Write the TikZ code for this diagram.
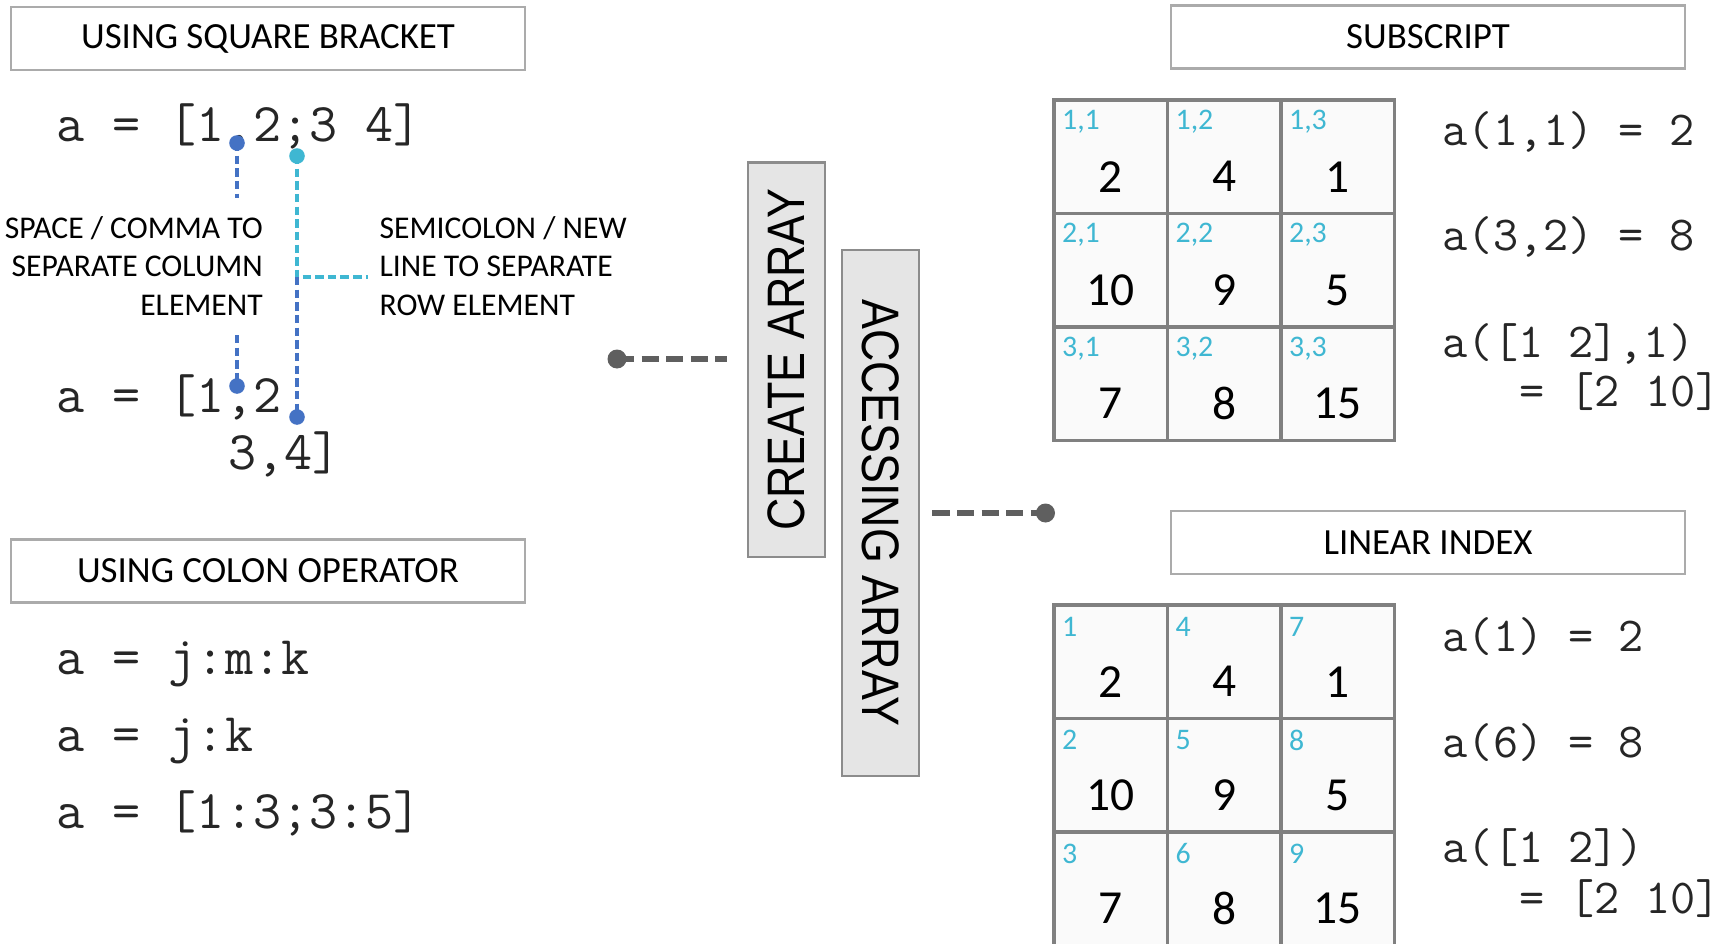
\documentclass[tikz,border=0pt]{standalone}
\usepackage{fontspec}
\setmainfont{Carlito}
\newfontfamily\headfont[FakeStretch=0.85]{Liberation Sans}
\definecolor{dotblue}{HTML}{4472C4}
\definecolor{dotcyan}{HTML}{3FB7D2}
\definecolor{linkgray}{HTML}{5F5F5F}
\definecolor{boxgray}{HTML}{ABABAB}
\definecolor{cellgray}{HTML}{808080}

\begin{document}
\begin{tikzpicture}[
  titlebox/.style={draw=boxgray,line width=0.8pt,minimum width=5.14cm,minimum height=0.63cm,inner sep=0pt,font=\fontsize{10.5}{12}\selectfont},
  sidebox/.style={draw=black!45,fill=black!10,line width=0.8pt,minimum height=0.77cm,inner sep=0pt,font=\headfont\fontsize{15}{18}\selectfont},
  code/.style={anchor=base west,inner sep=0pt,text=black!85,font=\ttfamily\fontsize{15.5}{18}\selectfont},
  smallcode/.style={code,font=\ttfamily\fontsize{13.9}{16}\selectfont},
  note/.style={inner sep=0pt,font=\fontsize{9}{10.95}\selectfont},
  cell/.style={draw=cellgray,fill=black!2,line width=0.9pt,minimum size=1.135cm,inner sep=0pt},
  idx/.style={anchor=west,inner sep=0pt,text=dotcyan,font=\fontsize{8.5}{10}\selectfont},
  num/.style={inner sep=0pt,font=\fontsize{13.5}{16}\selectfont},
  bluedash/.style={dotblue,line width=0.95pt,dash pattern=on 2.4pt off 1.2pt},
  cyandash/.style={dotcyan,line width=0.95pt,dash pattern=on 2.4pt off 1.2pt},
  link/.style={linkgray,line width=1.8pt,dash pattern=on 4.9pt off 2.1pt}
]
\useasboundingbox (0,0) rectangle (17.22,-9.44);

\node[titlebox] (sq) at (2.68,-0.385) {USING SQUARE BRACKET};
\node[titlebox] (colon) at (2.68,-5.71) {USING COLON OPERATOR};
\node[titlebox] (subs) at (14.28,-0.37) {SUBSCRIPT};
\node[titlebox] (lin) at (14.28,-5.425) {LINEAR INDEX};

\node[code] (sq1) at (0.56,-1.42) {a = [1,2;3 4]};
\node[code] (sq2) at (0.56,-4.12) {a = [1,2};
\node[code] (sq3) at (2.276,-4.69) {3,4]};
\node[code] (co1) at (0.56,-6.74) {a = j:m:k};
\node[code] (co2) at (0.56,-7.51) {a = j:k};
\node[code] (co3) at (0.56,-8.28) {a = [1:3;3:5]};

\node[note,align=right,anchor=east] (colnote) at (2.635,-2.66) {SPACE / COMMA TO\\SEPARATE COLUMN\\ELEMENT};
\node[note,align=left,anchor=west] (rownote) at (3.79,-2.66) {SEMICOLON / NEW\\LINE TO SEPARATE\\ROW ELEMENT};

\coordinate (dA) at (2.37,-1.43);
\coordinate (eA) at (2.37,-1.98);
\coordinate (eB) at (2.37,-3.35);
\coordinate (dB) at (2.37,-3.86);
\coordinate (dS) at (2.97,-1.56);
\coordinate (jn) at (2.97,-2.77);
\coordinate (eS) at (3.68,-2.77);
\coordinate (dC) at (2.97,-4.17);
\draw[bluedash] (dA) -- (eA);
\draw[bluedash] (eB) -- (dB);
\draw[cyandash] (dS) -- (jn) -- (eS);
\draw[bluedash] (jn) -- (dC);
\fill[dotblue] (dA) circle (0.078) (dB) circle (0.078) (dC) circle (0.078);
\fill[dotcyan] (dS) circle (0.078);

\node[sidebox,rotate=90,minimum width=3.945cm] (create) at (7.865,-3.5975) {CREATE ARRAY};
\node[sidebox,rotate=-90,minimum width=5.26cm] (access) at (8.805,-5.13) {ACCESSING ARRAY};

\coordinate (ldot) at (6.17,-3.59);
\coordinate (rdot) at (10.455,-5.13);
\draw[link,shorten >=0.2cm] (ldot) -- (ldot -| create.north);
\draw[link,shorten <=0.12cm] (access.north |- rdot) -- (rdot);
\fill[linkgray] (ldot) circle (0.095) (rdot) circle (0.095);

\foreach \val [count=\k from 0] in {2,4,1,10,9,5,7,8,15}{
  \pgfmathtruncatemacro\row{\k/3+1}
  \pgfmathtruncatemacro\col{mod(\k,3)+1}
  \pgfmathtruncatemacro\lidx{3*(\col-1)+\row}
  \node[cell] (sc\k) at ({10.54+(\col-0.5)*1.135},{-1.00-(\row-0.5)*1.135}) {};
  \node[idx] at ([shift={(0.09,-0.23)}]sc\k.north west) {\row,\col};
  \node[num] at ([yshift=-0.2cm]sc\k.center) {\val};
  \node[cell] (li\k) at ({10.54+(\col-0.5)*1.135},{-6.05-(\row-0.5)*1.135}) {};
  \node[idx] at ([shift={(0.09,-0.23)}]li\k.north west) {\lidx};
  \node[num] at ([yshift=-0.2cm]li\k.center) {\val};
}

\node[smallcode] (s1) at (14.42,-1.46) {a(1,1) = 2};
\node[smallcode] (s2) at (14.42,-2.50) {a(3,2) = 8};
\node[smallcode] (s3) at (14.42,-3.57) {a([1 2],1)};
\node[smallcode] (s4) at (15.185,-4.06) {= [2 10]};
\node[smallcode] (l1) at (14.42,-6.51) {a(1) = 2};
\node[smallcode] (l2) at (14.42,-7.57) {a(6) = 8};
\node[smallcode] (l3) at (14.42,-8.62) {a([1 2])};
\node[smallcode] (l4) at (15.185,-9.13) {= [2 10]};
\end{tikzpicture}
\end{document}
